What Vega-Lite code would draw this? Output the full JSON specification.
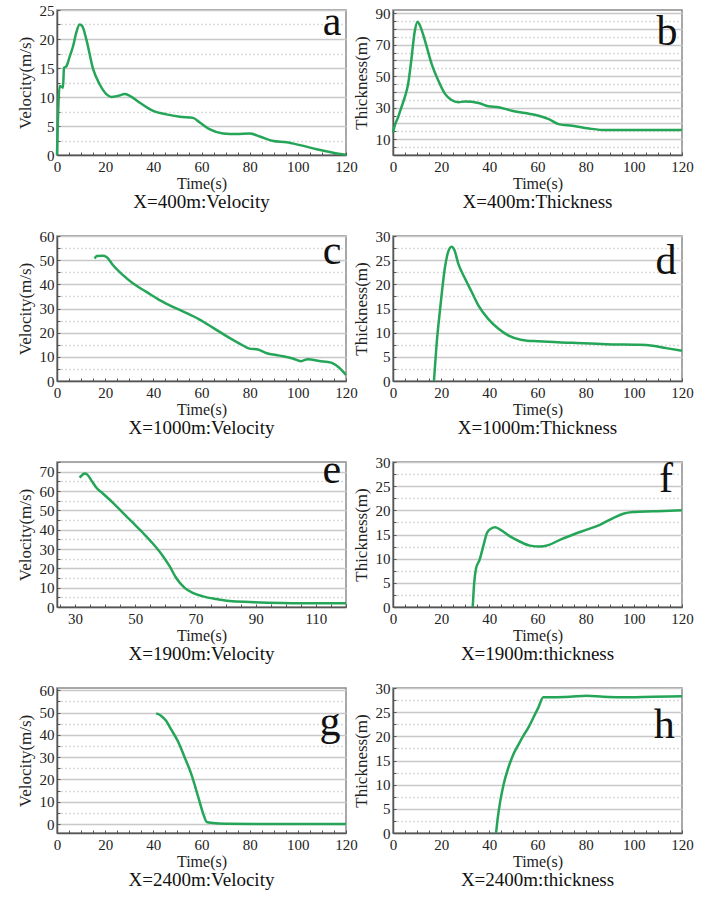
{
  "$schema": "https://vega.github.io/schema/vega-lite/v6.json",
  "padding": {"left": 15, "top": 0, "right": 5, "bottom": 5},
  "background": "white",
  "datasets": {
    "a": [
      {"t": 0, "v": 0}, {"t": 1.1, "v": 11.9}, {"t": 1.8, "v": 11.8}, {"t": 2.5, "v": 11.6}, {"t": 2.9, "v": 15}, {"t": 3.9, "v": 15.3},
      {"t": 5.3, "v": 17}, {"t": 6.7, "v": 18.8}, {"t": 8.0, "v": 21.1}, {"t": 9.4, "v": 22.5}, {"t": 10.5, "v": 22.2}, {"t": 12.2, "v": 19.9},
      {"t": 15.0, "v": 14.8}, {"t": 17.7, "v": 12.2}, {"t": 20.5, "v": 10.5}, {"t": 22.6, "v": 10}, {"t": 25.4, "v": 10.2}, {"t": 28.1, "v": 10.5},
      {"t": 30.2, "v": 10.2}, {"t": 34.4, "v": 9}, {"t": 39.9, "v": 7.6}, {"t": 45.4, "v": 7.0}, {"t": 51.0, "v": 6.6}, {"t": 56.5, "v": 6.4},
      {"t": 59.3, "v": 5.6}, {"t": 63.5, "v": 4.4}, {"t": 69.0, "v": 3.7}, {"t": 74.5, "v": 3.6}, {"t": 80.1, "v": 3.7}, {"t": 84.2, "v": 3.2},
      {"t": 89.8, "v": 2.4}, {"t": 95.3, "v": 2.2}, {"t": 100.9, "v": 1.7}, {"t": 107.8, "v": 1.0}, {"t": 114.7, "v": 0.4}, {"t": 120, "v": 0.05}
    ],
    "b": [
      {"t": 0, "v": 14.3}, {"t": 0.7, "v": 18.5}, {"t": 2.1, "v": 23.9}, {"t": 3.5, "v": 30.3}, {"t": 4.9, "v": 36.7}, {"t": 6.3, "v": 45.2},
      {"t": 7.6, "v": 60.1}, {"t": 9.0, "v": 78.2}, {"t": 10.2, "v": 84.6}, {"t": 11.1, "v": 82.5}, {"t": 13.2, "v": 72.9}, {"t": 16.0, "v": 58.0},
      {"t": 18.8, "v": 47.3}, {"t": 21.6, "v": 38.8}, {"t": 24.3, "v": 34.9}, {"t": 27.1, "v": 33.5}, {"t": 29.9, "v": 33.9}, {"t": 35.5, "v": 33.0},
      {"t": 39.6, "v": 30.9}, {"t": 43.8, "v": 30.3}, {"t": 49.4, "v": 28.1}, {"t": 54.9, "v": 26.6}, {"t": 60.5, "v": 24.9}, {"t": 64.7, "v": 22.8},
      {"t": 68.8, "v": 19.6}, {"t": 74.4, "v": 18.5}, {"t": 81.4, "v": 16.8}, {"t": 88.3, "v": 15.8}, {"t": 95.3, "v": 15.8}, {"t": 120, "v": 15.8}
    ],
    "c": [
      {"t": 15.6, "v": 50.7}, {"t": 16.6, "v": 51.7}, {"t": 19.1, "v": 51.8}, {"t": 20.7, "v": 51.2}, {"t": 23.2, "v": 48.0}, {"t": 27.4, "v": 43.8},
      {"t": 31.5, "v": 40.4}, {"t": 37.1, "v": 36.9}, {"t": 42.6, "v": 33.5}, {"t": 48.1, "v": 30.7}, {"t": 53.6, "v": 28.2}, {"t": 59.2, "v": 25.4},
      {"t": 64.7, "v": 22.1}, {"t": 70.2, "v": 18.7}, {"t": 75.8, "v": 15.5}, {"t": 79.9, "v": 13.4}, {"t": 83.4, "v": 13.0}, {"t": 86.8, "v": 11.6},
      {"t": 92.4, "v": 10.5}, {"t": 97.9, "v": 9.3}, {"t": 101.3, "v": 8.2}, {"t": 104.1, "v": 9.0}, {"t": 108.9, "v": 8.3}, {"t": 113.8, "v": 7.6},
      {"t": 115.9, "v": 6.5}, {"t": 118.6, "v": 4.1}, {"t": 120, "v": 2.5}
    ],
    "d": [
      {"t": 17.0, "v": 0}, {"t": 18.1, "v": 7.6}, {"t": 19.5, "v": 14.6}, {"t": 21.6, "v": 23.6}, {"t": 22.9, "v": 26.7}, {"t": 24.3, "v": 27.8},
      {"t": 25.5, "v": 27.1}, {"t": 27.1, "v": 24.3}, {"t": 29.9, "v": 21.2}, {"t": 32.7, "v": 18.4}, {"t": 35.5, "v": 15.6}, {"t": 39.6, "v": 12.8},
      {"t": 43.8, "v": 10.8}, {"t": 48.0, "v": 9.4}, {"t": 53.5, "v": 8.5}, {"t": 60.5, "v": 8.2}, {"t": 74.4, "v": 7.9}, {"t": 88.3, "v": 7.6},
      {"t": 102.2, "v": 7.5}, {"t": 107.8, "v": 7.3}, {"t": 113.4, "v": 6.8}, {"t": 120, "v": 6.25}
    ],
    "e": [
      {"t": 31.5, "v": 66.9}, {"t": 32.4, "v": 68.3}, {"t": 33.2, "v": 69.1}, {"t": 34.0, "v": 68.6}, {"t": 35.4, "v": 65.5}, {"t": 37.1, "v": 61.7},
      {"t": 39.3, "v": 58.6}, {"t": 42.6, "v": 53.9}, {"t": 45.9, "v": 48.7}, {"t": 49.2, "v": 43.6}, {"t": 52.5, "v": 38.4}, {"t": 55.9, "v": 32.7},
      {"t": 59.2, "v": 26.3}, {"t": 61.4, "v": 21.1}, {"t": 63.6, "v": 15.0}, {"t": 66.4, "v": 9.9}, {"t": 69.1, "v": 7.3}, {"t": 72.5, "v": 5.5},
      {"t": 76.9, "v": 4.1}, {"t": 81.3, "v": 3.1}, {"t": 88.0, "v": 2.6}, {"t": 99.0, "v": 2.1}, {"t": 110.1, "v": 1.9}, {"t": 120, "v": 1.9}
    ],
    "f": [
      {"t": 33.1, "v": 0}, {"t": 33.7, "v": 4.9}, {"t": 34.5, "v": 8.0}, {"t": 35.9, "v": 9.7}, {"t": 37.6, "v": 12.8}, {"t": 39.0, "v": 15.3},
      {"t": 40.6, "v": 16.2}, {"t": 42.4, "v": 16.5}, {"t": 44.5, "v": 16.0}, {"t": 48.6, "v": 14.6}, {"t": 52.8, "v": 13.5}, {"t": 56.9, "v": 12.7},
      {"t": 61.0, "v": 12.5}, {"t": 64.5, "v": 12.8}, {"t": 69.3, "v": 13.9}, {"t": 74.9, "v": 15.0}, {"t": 80.4, "v": 16.0}, {"t": 85.9, "v": 17.0},
      {"t": 91.4, "v": 18.4}, {"t": 95.6, "v": 19.3}, {"t": 99.7, "v": 19.65}, {"t": 108.0, "v": 19.8}, {"t": 120, "v": 20.0}
    ],
    "g": [
      {"t": 41.2, "v": 49.6}, {"t": 43.3, "v": 48.5}, {"t": 45.3, "v": 46.3}, {"t": 47.4, "v": 42.4}, {"t": 50.2, "v": 37.1}, {"t": 52.9, "v": 30.2},
      {"t": 55.7, "v": 22.6}, {"t": 58.5, "v": 12.7}, {"t": 60.6, "v": 5.0}, {"t": 62.2, "v": 0.9}, {"t": 64.7, "v": 0.5}, {"t": 70.2, "v": 0.15},
      {"t": 86.8, "v": 0}, {"t": 120, "v": 0}
    ],
    "h": [
      {"t": 42.8, "v": 0}, {"t": 43.5, "v": 3.1}, {"t": 44.5, "v": 6.5}, {"t": 45.9, "v": 10.0}, {"t": 47.9, "v": 13.5}, {"t": 50.0, "v": 16.3},
      {"t": 52.1, "v": 18.3}, {"t": 54.1, "v": 20.1}, {"t": 56.2, "v": 21.8}, {"t": 58.3, "v": 23.9}, {"t": 60.4, "v": 26.0}, {"t": 62.4, "v": 28.1},
      {"t": 66.6, "v": 28.1}, {"t": 73.5, "v": 28.2}, {"t": 80.4, "v": 28.4}, {"t": 87.3, "v": 28.2}, {"t": 94.2, "v": 28.1}, {"t": 108.0, "v": 28.2},
      {"t": 120, "v": 28.3}
    ]
  },
  "columns": 2,
  "spacing": {"row": 81, "column": 47},
  "bounds": "flush",
  "concat": [
    {
      "width": 289, "height": 145,
      "title": "X=400m:Velocity",
      "layer": [
        {
          "data": {"name": "a"},
          "mark": {"type": "line", "color": "#25a558", "strokeWidth": 2.5, "interpolate": "monotone"},
          "encoding": {
            "x": {"field": "t", "type": "quantitative", "scale": {"domain": [0, 120], "nice": false, "zero": false},
                  "axis": {"title": "Time(s)", "tickCount": 200, "values": [0,5,10,15,20,25,30,35,40,45,50,55,60,65,70,75,80,85,90,95,100,105,110,115,120], "labelExpr": "datum.value % 20 === 0 ? '' + datum.value : ''"}},
            "y": {"field": "v", "type": "quantitative", "scale": {"domain": [0, 25], "nice": false},
                  "axis": {"title": "Velocity(m/s)", "tickCount": 200, "values": [0,2.5,5,7.5,10,12.5,15,17.5,20,22.5,25], "labelExpr": "datum.value % 5 === 0 ? '' + datum.value : ''",
                           "gridDash": {"condition": {"test": "datum.value % 5 !== 0", "value": [1, 3]}, "value": []},
                           "gridColor": {"condition": {"test": "datum.value % 5 !== 0", "value": "#b8b8b8"}, "value": "#c8c8c8"}}}
          }
        },
        {
          "data": {"values": [{"label": "a"}]},
          "mark": {"type": "text", "font": "Liberation Serif", "fontSize": 42, "align": "center", "baseline": "alphabetic", "color": "#111"},
          "encoding": {"x": {"datum": 114.2}, "y": {"datum": 20.7}, "text": {"field": "label"}}
        }
      ]
    },
    {
      "width": 289, "height": 145,
      "title": "X=400m:Thickness",
      "layer": [
        {
          "data": {"name": "b"},
          "mark": {"type": "line", "color": "#25a558", "strokeWidth": 2.5, "interpolate": "monotone"},
          "encoding": {
            "x": {"field": "t", "type": "quantitative", "scale": {"domain": [0, 120], "nice": false, "zero": false},
                  "axis": {"title": "Time(s)", "tickCount": 200, "values": [0,5,10,15,20,25,30,35,40,45,50,55,60,65,70,75,80,85,90,95,100,105,110,115,120], "labelExpr": "datum.value % 20 === 0 ? '' + datum.value : ''"}},
            "y": {"field": "v", "type": "quantitative", "scale": {"domain": [0, 92], "nice": false},
                  "axis": {"title": "Thickness(m)", "tickCount": 200, "values": [0,5,10,15,20,25,30,35,40,45,50,55,60,65,70,75,80,85,90], "labelExpr": "(datum.value - 10) % 20 === 0 ? '' + datum.value : ''",
                           "gridDash": {"condition": {"test": "datum.value % 10 !== 0", "value": [1, 3]}, "value": []},
                           "gridColor": {"condition": {"test": "datum.value % 10 !== 0", "value": "#b8b8b8"}, "value": "#c8c8c8"}}}
          }
        },
        {
          "data": {"values": [{"label": "b"}]},
          "mark": {"type": "text", "font": "Liberation Serif", "fontSize": 42, "align": "center", "baseline": "alphabetic", "color": "#111"},
          "encoding": {"x": {"datum": 113.8}, "y": {"datum": 69.6}, "text": {"field": "label"}}
        }
      ]
    },
    {
      "width": 289, "height": 145,
      "title": "X=1000m:Velocity",
      "layer": [
        {
          "data": {"name": "c"},
          "mark": {"type": "line", "color": "#25a558", "strokeWidth": 2.5, "interpolate": "monotone"},
          "encoding": {
            "x": {"field": "t", "type": "quantitative", "scale": {"domain": [0, 120], "nice": false, "zero": false},
                  "axis": {"title": "Time(s)", "tickCount": 200, "values": [0,5,10,15,20,25,30,35,40,45,50,55,60,65,70,75,80,85,90,95,100,105,110,115,120], "labelExpr": "datum.value % 20 === 0 ? '' + datum.value : ''"}},
            "y": {"field": "v", "type": "quantitative", "scale": {"domain": [0, 60], "nice": false},
                  "axis": {"title": "Velocity(m/s)", "tickCount": 200, "values": [0,5,10,15,20,25,30,35,40,45,50,55,60], "labelExpr": "datum.value % 10 === 0 ? '' + datum.value : ''",
                           "gridDash": {"condition": {"test": "datum.value % 10 !== 0", "value": [1, 3]}, "value": []},
                           "gridColor": {"condition": {"test": "datum.value % 10 !== 0", "value": "#b8b8b8"}, "value": "#c8c8c8"}}}
          }
        },
        {
          "data": {"values": [{"label": "c"}]},
          "mark": {"type": "text", "font": "Liberation Serif", "fontSize": 42, "align": "center", "baseline": "alphabetic", "color": "#111"},
          "encoding": {"x": {"datum": 114.2}, "y": {"datum": 48.4}, "text": {"field": "label"}}
        }
      ]
    },
    {
      "width": 289, "height": 145,
      "title": "X=1000m:Thickness",
      "layer": [
        {
          "data": {"name": "d"},
          "mark": {"type": "line", "color": "#25a558", "strokeWidth": 2.5, "interpolate": "monotone"},
          "encoding": {
            "x": {"field": "t", "type": "quantitative", "scale": {"domain": [0, 120], "nice": false, "zero": false},
                  "axis": {"title": "Time(s)", "tickCount": 200, "values": [0,5,10,15,20,25,30,35,40,45,50,55,60,65,70,75,80,85,90,95,100,105,110,115,120], "labelExpr": "datum.value % 20 === 0 ? '' + datum.value : ''"}},
            "y": {"field": "v", "type": "quantitative", "scale": {"domain": [0, 30], "nice": false},
                  "axis": {"title": "Thickness(m)", "tickCount": 200, "values": [0,2.5,5,7.5,10,12.5,15,17.5,20,22.5,25,27.5,30], "labelExpr": "datum.value % 5 === 0 ? '' + datum.value : ''",
                           "gridDash": {"condition": {"test": "datum.value % 5 !== 0", "value": [1, 3]}, "value": []},
                           "gridColor": {"condition": {"test": "datum.value % 5 !== 0", "value": "#b8b8b8"}, "value": "#c8c8c8"}}}
          }
        },
        {
          "data": {"values": [{"label": "d"}]},
          "mark": {"type": "text", "font": "Liberation Serif", "fontSize": 42, "align": "center", "baseline": "alphabetic", "color": "#111"},
          "encoding": {"x": {"datum": 113.4}, "y": {"datum": 22.1}, "text": {"field": "label"}}
        }
      ]
    },
    {
      "width": 289, "height": 145,
      "title": "X=1900m:Velocity",
      "layer": [
        {
          "data": {"name": "e"},
          "mark": {"type": "line", "color": "#25a558", "strokeWidth": 2.5, "interpolate": "monotone"},
          "encoding": {
            "x": {"field": "t", "type": "quantitative", "scale": {"domain": [24, 120], "nice": false, "zero": false},
                  "axis": {"title": "Time(s)", "tickCount": 200, "values": [25,30,35,40,45,50,55,60,65,70,75,80,85,90,95,100,105,110,115,120], "labelExpr": "(datum.value - 30) % 20 === 0 ? '' + datum.value : ''"}},
            "y": {"field": "v", "type": "quantitative", "scale": {"domain": [0, 75], "nice": false},
                  "axis": {"title": "Velocity(m/s)", "tickCount": 200, "values": [0,5,10,15,20,25,30,35,40,45,50,55,60,65,70,75], "labelExpr": "datum.value % 10 === 0 ? '' + datum.value : ''",
                           "gridDash": {"condition": {"test": "datum.value % 10 !== 0", "value": [1, 3]}, "value": []},
                           "gridColor": {"condition": {"test": "datum.value % 10 !== 0", "value": "#b8b8b8"}, "value": "#c8c8c8"}}}
          }
        },
        {
          "data": {"values": [{"label": "e"}]},
          "mark": {"type": "text", "font": "Liberation Serif", "fontSize": 42, "align": "center", "baseline": "alphabetic", "color": "#111"},
          "encoding": {"x": {"datum": 115.3}, "y": {"datum": 64.1}, "text": {"field": "label"}}
        }
      ]
    },
    {
      "width": 289, "height": 145,
      "title": "X=1900m:thickness",
      "layer": [
        {
          "data": {"name": "f"},
          "mark": {"type": "line", "color": "#25a558", "strokeWidth": 2.5, "interpolate": "monotone"},
          "encoding": {
            "x": {"field": "t", "type": "quantitative", "scale": {"domain": [0, 120], "nice": false, "zero": false},
                  "axis": {"title": "Time(s)", "tickCount": 200, "values": [0,5,10,15,20,25,30,35,40,45,50,55,60,65,70,75,80,85,90,95,100,105,110,115,120], "labelExpr": "datum.value % 20 === 0 ? '' + datum.value : ''"}},
            "y": {"field": "v", "type": "quantitative", "scale": {"domain": [0, 30], "nice": false},
                  "axis": {"title": "Thickness(m)", "tickCount": 200, "values": [0,2.5,5,7.5,10,12.5,15,17.5,20,22.5,25,27.5,30], "labelExpr": "datum.value % 5 === 0 ? '' + datum.value : ''",
                           "gridDash": {"condition": {"test": "datum.value % 5 !== 0", "value": [1, 3]}, "value": []},
                           "gridColor": {"condition": {"test": "datum.value % 5 !== 0", "value": "#b8b8b8"}, "value": "#c8c8c8"}}}
          }
        },
        {
          "data": {"values": [{"label": "f"}]},
          "mark": {"type": "text", "font": "Liberation Serif", "fontSize": 42, "align": "center", "baseline": "alphabetic", "color": "#111"},
          "encoding": {"x": {"datum": 113.4}, "y": {"datum": 23.75}, "text": {"field": "label"}}
        }
      ]
    },
    {
      "width": 289, "height": 145,
      "title": "X=2400m:Velocity",
      "layer": [
        {
          "data": {"name": "g"},
          "mark": {"type": "line", "color": "#25a558", "strokeWidth": 2.5, "interpolate": "monotone"},
          "encoding": {
            "x": {"field": "t", "type": "quantitative", "scale": {"domain": [0, 120], "nice": false, "zero": false},
                  "axis": {"title": "Time(s)", "tickCount": 200, "values": [0,5,10,15,20,25,30,35,40,45,50,55,60,65,70,75,80,85,90,95,100,105,110,115,120], "labelExpr": "datum.value % 20 === 0 ? '' + datum.value : ''"}},
            "y": {"field": "v", "type": "quantitative", "scale": {"domain": [-4, 61], "nice": false, "zero": false},
                  "axis": {"title": "Velocity(m/s)", "tickCount": 200, "values": [0,5,10,15,20,25,30,35,40,45,50,55,60], "labelExpr": "datum.value % 10 === 0 ? '' + datum.value : ''",
                           "gridDash": {"condition": {"test": "datum.value % 10 !== 0", "value": [1, 3]}, "value": []},
                           "gridColor": {"condition": {"test": "datum.value % 10 !== 0", "value": "#b8b8b8"}, "value": "#c8c8c8"}}}
          }
        },
        {
          "data": {"values": [{"label": "g"}]},
          "mark": {"type": "text", "font": "Liberation Serif", "fontSize": 42, "align": "center", "baseline": "alphabetic", "color": "#111"},
          "encoding": {"x": {"datum": 113.4}, "y": {"datum": 40.1}, "text": {"field": "label"}}
        }
      ]
    },
    {
      "width": 289, "height": 145,
      "title": "X=2400m:thickness",
      "layer": [
        {
          "data": {"name": "h"},
          "mark": {"type": "line", "color": "#25a558", "strokeWidth": 2.5, "interpolate": "monotone"},
          "encoding": {
            "x": {"field": "t", "type": "quantitative", "scale": {"domain": [0, 120], "nice": false, "zero": false},
                  "axis": {"title": "Time(s)", "tickCount": 200, "values": [0,5,10,15,20,25,30,35,40,45,50,55,60,65,70,75,80,85,90,95,100,105,110,115,120], "labelExpr": "datum.value % 20 === 0 ? '' + datum.value : ''"}},
            "y": {"field": "v", "type": "quantitative", "scale": {"domain": [0, 30], "nice": false},
                  "axis": {"title": "Thickness(m)", "tickCount": 200, "values": [0,2.5,5,7.5,10,12.5,15,17.5,20,22.5,25,27.5,30], "labelExpr": "datum.value % 5 === 0 ? '' + datum.value : ''",
                           "gridDash": {"condition": {"test": "datum.value % 5 !== 0", "value": [1, 3]}, "value": []},
                           "gridColor": {"condition": {"test": "datum.value % 5 !== 0", "value": "#b8b8b8"}, "value": "#c8c8c8"}}}
          }
        },
        {
          "data": {"values": [{"label": "h"}]},
          "mark": {"type": "text", "font": "Liberation Serif", "fontSize": 42, "align": "center", "baseline": "alphabetic", "color": "#111"},
          "encoding": {"x": {"datum": 112.6}, "y": {"datum": 19.7}, "text": {"field": "label"}}
        }
      ]
    }
  ],
  "config": {
    "view": {"stroke": "#8a8a8a", "strokeWidth": 1.5},
    "title": {"orient": "bottom", "font": "Liberation Serif", "fontSize": 19, "fontWeight": "normal", "color": "#111", "offset": 2, "anchor": "middle"},
    "axis": {
      "labelFont": "Liberation Serif", "labelFontSize": 15, "labelColor": "#222",
      "titleFont": "Liberation Serif", "titleFontSize": 17, "titleFontWeight": "normal", "titleColor": "#222",
      "domainColor": "#555", "domainWidth": 1.5, "tickColor": "#555", "tickWidth": 1,
      "labelFlush": false, "labelOverlap": false
    },
    "axisX": {"grid": false, "tickSize": -3, "labelPadding": 7, "titlePadding": 1, "titleFontSize": 16},
    "axisY": {"grid": true, "gridWidth": 1.5, "tickSize": -3, "labelPadding": 6, "titlePadding": 5}
  }
}
